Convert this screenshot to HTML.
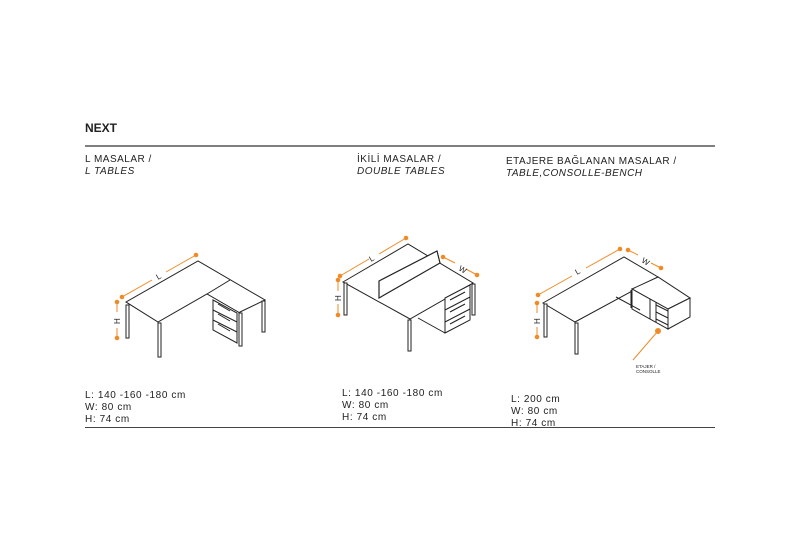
<!DOCTYPE html>
<html><head><meta charset="utf-8"><style>
html,body{margin:0;padding:0;background:#fff}
svg{display:block}
text{font-family:"Liberation Sans",sans-serif;fill:#222}
</style></head><body>
<svg width="800" height="553" viewBox="0 0 800 553" xmlns="http://www.w3.org/2000/svg">
<text x="85" y="132" font-size="12" font-weight="bold" fill="#111">NEXT</text>
<line x1="85" y1="146" x2="715" y2="146" stroke="#333" stroke-width="1.2"/>
<line x1="85" y1="427.5" x2="715" y2="427.5" stroke="#444" stroke-width="1"/>
<g font-size="10" letter-spacing="0.5">
<text x="85" y="162">L MASALAR /</text>
<text x="85" y="174" font-style="italic">L TABLES</text>
<text x="357" y="162">İKİLİ MASALAR /</text>
<text x="357" y="174" font-style="italic">DOUBLE TABLES</text>
<text x="506" y="164">ETAJERE  BAĞLANAN MASALAR /</text>
<text x="506" y="176" font-style="italic">TABLE,CONSOLLE-BENCH</text>
</g>
<g font-size="10" letter-spacing="0.6">
<text x="85" y="398">L: 140 -160 -180 cm</text>
<text x="85" y="410">W: 80 cm</text>
<text x="85" y="422">H: 74 cm</text>
<text x="342" y="396">L: 140 -160 -180 cm</text>
<text x="342" y="408">W: 80 cm</text>
<text x="342" y="420">H: 74 cm</text>
<text x="511" y="402">L: 200 cm</text>
<text x="511" y="414">W: 80 cm</text>
<text x="511" y="426">H: 74 cm</text>
</g>
<g fill="none" stroke="#222" stroke-width="1">
<polygon points="126,302 198,261 265,300 240,312 240,313 207,294 158,322" fill="#fff"/>
<line x1="230" y1="280" x2="207" y2="294"/>
<rect x="126" y="305" width="3" height="33" fill="#fff"/>
<rect x="158" y="323" width="3" height="34" fill="#fff"/>
<rect x="262" y="301" width="3" height="31" fill="#fff"/>
<rect x="239" y="313" width="3" height="33" fill="#fff"/>
<polygon points="213,300 237,313 237,343 213,330" fill="#fff"/>
<line x1="213" y1="310" x2="237" y2="322"/><line x1="213" y1="320" x2="237" y2="332"/>
<line x1="218" y1="304" x2="230" y2="311"/><line x1="218" y1="314" x2="230" y2="321"/><line x1="218" y1="324" x2="230" y2="331"/>
<polygon points="343,282 408,244 473,283 410,319" fill="#fff"/>
<polygon points="379,281 437,251 440,263 379,298" fill="#fff" stroke-width="1.2"/>
<rect x="344" y="283" width="3" height="32" fill="#fff"/>
<rect x="408" y="320" width="3" height="31" fill="#fff"/>
<rect x="472" y="284" width="3" height="31" fill="#fff"/>
<polygon points="445,298 470,285 470,320 445,333" fill="#fff"/>
<line x1="418" y1="318" x2="445" y2="333"/>
<line x1="445" y1="310" x2="470" y2="297"/><line x1="445" y1="322" x2="470" y2="309"/>
<line x1="450" y1="300" x2="465" y2="292"/><line x1="450" y1="312" x2="465" y2="304"/><line x1="450" y1="324" x2="465" y2="316"/>
<polygon points="543,303 624,257 658,277 575,322" fill="#fff"/>
<polygon points="632,289 658,277 690,298 668,309" fill="#fff"/>
<polygon points="668,309 690,298 690,317 668,329" fill="#fff"/>
<polygon points="632,289 668,309 668,329 632,309" fill="#fff"/>
<line x1="616" y1="297" x2="640" y2="310"/>
<line x1="631" y1="290" x2="631" y2="308"/>
<line x1="650" y1="299" x2="650" y2="319"/>
<line x1="656" y1="305" x2="668" y2="311"/><line x1="656" y1="312" x2="668" y2="318"/><line x1="656" y1="319" x2="668" y2="325"/>
<line x1="656" y1="302" x2="656" y2="322"/>
<rect x="544" y="304" width="3" height="33" fill="#fff"/>
<rect x="575" y="323" width="3" height="31" fill="#fff"/>
</g>
<g stroke="#f08a24" stroke-width="1" fill="#f08a24">
<line x1="122" y1="297" x2="152" y2="280"/><line x1="166" y1="272" x2="196" y2="255"/>
<circle cx="122" cy="297" r="1.8"/><circle cx="196" cy="255" r="1.8"/>
<line x1="117" y1="302" x2="117" y2="312"/><line x1="117" y1="328" x2="117" y2="338"/>
<circle cx="117" cy="302" r="1.8"/><circle cx="117" cy="338" r="1.8"/>
<line x1="340" y1="276" x2="369" y2="259"/><line x1="379" y1="254" x2="406" y2="238"/>
<circle cx="340" cy="276" r="1.8"/><circle cx="406" cy="238" r="1.8"/>
<line x1="443" y1="257" x2="455" y2="263"/><line x1="466" y1="269" x2="477" y2="275"/>
<circle cx="443" cy="257" r="1.8"/><circle cx="477" cy="275" r="1.8"/>
<line x1="338" y1="280" x2="338" y2="291"/><line x1="338" y1="304" x2="338" y2="315"/>
<circle cx="338" cy="280" r="1.8"/><circle cx="338" cy="315" r="1.8"/>
<line x1="538" y1="295" x2="572" y2="276"/><line x1="586" y1="268" x2="620" y2="249"/>
<circle cx="538" cy="295" r="1.8"/><circle cx="620" cy="249" r="1.8"/>
<line x1="628" y1="250" x2="638" y2="255"/><line x1="651" y1="263" x2="661" y2="268"/>
<circle cx="628" cy="250" r="1.8"/><circle cx="661" cy="268" r="1.8"/>
<line x1="537" y1="303" x2="537" y2="313"/><line x1="537" y1="327" x2="537" y2="337"/>
<circle cx="537" cy="303" r="1.8"/><circle cx="537" cy="337" r="1.8"/>
<line x1="658" y1="331" x2="633" y2="360"/><circle cx="658" cy="331" r="2.5"/>
</g>
<g font-size="8">
<text x="158" y="280" transform="rotate(-30 158 280)">L</text>
<text x="371" y="262" transform="rotate(-30 371 262)">L</text>
<text x="458" y="270" transform="rotate(30 458 270)">W</text>
<text x="577" y="275" transform="rotate(-30 577 275)">L</text>
<text x="641" y="262" transform="rotate(30 641 262)">W</text>
<text x="120" y="324" transform="rotate(-90 120 324)">H</text>
<text x="341" y="301" transform="rotate(-90 341 301)">H</text>
<text x="540" y="324" transform="rotate(-90 540 324)">H</text>
</g>
<text x="636" y="368" font-size="4.5">ETAJER /</text>
<text x="636" y="373" font-size="4.5">CONSOLLE</text>
</svg>
</body></html>
